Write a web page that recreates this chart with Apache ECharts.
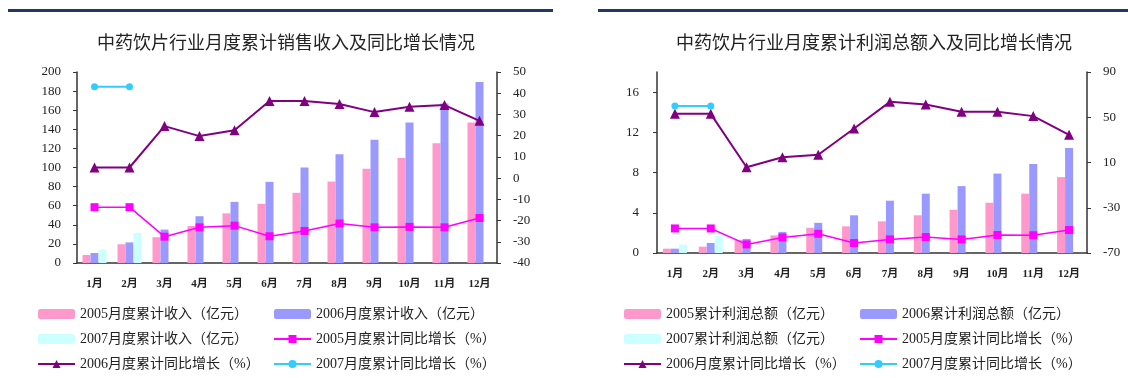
<!DOCTYPE html>
<html>
<head>
<meta charset="utf-8">
<script src="https://cdn.jsdelivr.net/npm/echarts@6/dist/echarts.min.js"></script>
<style>
  html, body { margin: 0; padding: 0; background: #fff; }
  #wrap { width: 1128px; height: 378px; position: relative; }
  .chart { position: absolute; top: 0; width: 564px; height: 378px; }
</style>
</head>
<body>
<div id="wrap">
  <div id="sales" class="chart" style="left:0"></div>
  <div id="profit" class="chart" style="left:564px"></div>
</div>
<script>
var months = ['1月', '2月', '3月', '4月', '5月', '6月', '7月', '8月', '9月', '10月', '11月', '12月'];

// 累计销售收入（亿元）
var sales2005 = [8.4, 19.6, 27, 38.8, 52, 62, 73.5, 85.3, 98.6, 110, 125.5, 147];
var sales2006 = [10.5, 21.6, 35, 49, 64, 85, 100, 114, 129, 147, 167, 189.5];
var sales2007 = [14, 31.5, null, null, null, null, null, null, null, null, null, null];
// 销售收入同比增长（%）
var salesGrowth2005 = [-13.7, -13.7, -27.6, -23.2, -22.4, -27.4, -24.9, -21.4, -23.2, -23, -23.2, -18.8];
var salesGrowth2006 = [5, 5, 24.5, 19.8, 22.6, 36.3, 36.3, 34.9, 31.1, 33.6, 34.4, 27];
var salesGrowth2007 = [43, 43, null, null, null, null, null, null, null, null, null, null];

// 累计利润总额（亿元）
var profit2005 = [0.43, 0.63, 1.3, 1.75, 2.5, 2.65, 3.15, 3.75, 4.3, 5.0, 5.9, 7.55];
var profit2006 = [0.43, 1.0, 1.4, 2.1, 3.0, 3.75, 5.2, 5.9, 6.65, 7.9, 8.85, 10.45];
var profit2007 = [0.83, 1.7, null, null, null, null, null, null, null, null, null, null];
// 利润同比增长（%）
var profitGrowth2005 = [-48.3, -48.3, -62.4, -56.3, -53, -61.2, -58, -55.9, -58, -54.1, -54.3, -49.7];
var profitGrowth2006 = [53, 53, 5.8, 14.6, 16.9, 40, 63.6, 61.3, 54.8, 54.8, 51, 34.5];
var profitGrowth2007 = [60, 60, null, null, null, null, null, null, null, null, null, null];

var FONT = "'Times New Roman', 'Liberation Serif', 'Noto Sans CJK SC', serif";
var TEXT = '#222';

function render(id, cfg) {
  var chart = echarts.init(document.getElementById(id));
  var axisLine = { show: true, lineStyle: { color: '#333', width: 1.5 } };
  var legendBase = {
    orient: 'vertical',
    padding: 0,
    itemWidth: 37,
    itemHeight: 10,
    itemGap: 11,
    textStyle: { color: TEXT, fontFamily: FONT, fontSize: 14, lineHeight: 14 }
  };
  chart.setOption({
    animation: false,
    title: {
      text: cfg.title,
      left: cfg.titleX,
      top: 30,
      textAlign: 'center',
      textStyle: { color: TEXT, fontFamily: FONT, fontSize: 18, fontWeight: 'normal' }
    },
    graphic: [{
      type: 'rect',
      shape: { x: cfg.ruleX, y: 9, width: cfg.ruleW, height: 3 },
      style: { fill: '#1F3864' }
    }],
    legend: [
      Object.assign({ left: cfg.legendX[0], top: 307, data: [cfg.names[0], cfg.names[2], cfg.names[4]] }, legendBase),
      Object.assign({ left: cfg.legendX[1], top: 307, data: [cfg.names[1], cfg.names[3], cfg.names[5]] }, legendBase)
    ],
    grid: cfg.grid,
    xAxis: {
      type: 'category',
      data: months,
      axisLine: axisLine,
      axisTick: { inside: true, length: 4, lineStyle: { color: '#333' } },
      axisLabel: { color: TEXT, fontFamily: FONT, fontSize: 11, fontWeight: 'bold', margin: 16 }
    },
    yAxis: [{
      type: 'value',
      min: cfg.left[0], max: cfg.left[1], interval: cfg.left[2],
      axisLine: axisLine,
      axisTick: { show: true, length: 4, lineStyle: { color: '#333' } },
      axisLabel: { showMaxLabel: cfg.left[3], color: TEXT, fontFamily: FONT, fontSize: 13, margin: cfg.leftMargin },
      splitLine: { show: false }
    }, {
      type: 'value',
      min: cfg.right[0], max: cfg.right[1], interval: cfg.right[2],
      axisLine: axisLine,
      axisTick: { show: true, length: 4, lineStyle: { color: '#333' } },
      axisLabel: { color: TEXT, fontFamily: FONT, fontSize: 13, margin: 16 },
      splitLine: { show: false }
    }],
    series: [
      { name: cfg.names[0], type: 'bar', data: cfg.bars[0], barWidth: 8, barGap: '0%', itemStyle: { color: '#FF99CC' } },
      { name: cfg.names[1], type: 'bar', data: cfg.bars[1], barWidth: 8, barGap: '0%', itemStyle: { color: '#9999FF' } },
      { name: cfg.names[2], type: 'bar', data: cfg.bars[2], barWidth: 8, barGap: '0%', itemStyle: { color: '#CCFFFF' } },
      {
        name: cfg.names[3], type: 'line', yAxisIndex: 1, data: cfg.lines[0],
        symbol: 'rect', symbolSize: 8, z: 5,
        lineStyle: { color: '#FF00FF', width: 1.5 }, itemStyle: { color: '#FF00FF' }
      },
      {
        name: cfg.names[4], type: 'line', yAxisIndex: 1, data: cfg.lines[1],
        symbol: 'triangle', symbolSize: 10, z: 5,
        lineStyle: { color: '#800080', width: 2 }, itemStyle: { color: '#800080' }
      },
      {
        name: cfg.names[5], type: 'line', yAxisIndex: 1, data: cfg.lines[2],
        symbol: 'circle', symbolSize: 7, z: 5,
        lineStyle: { color: '#33CCFF', width: 2 }, itemStyle: { color: '#33CCFF' }
      }
    ]
  });
}

render('sales', {
  title: '中药饮片行业月度累计销售收入及同比增长情况',
  titleX: 281,
  ruleX: 8, ruleW: 545,
  grid: { left: 77, right: 67, top: 72, bottom: 115 },
  left: [0, 200, 20, true],
  leftMargin: 16,
  right: [-40, 50, 10],
  legendX: [37, 273],
  names: ['2005月度累计收入（亿元）', '2006月度累计收入（亿元）', '2007月度累计收入（亿元）',
          '2005月度累计同比增长（%）', '2006月度累计同比增长（%）', '2007月度累计同比增长（%）'],
  bars: [sales2005, sales2006, sales2007],
  lines: [salesGrowth2005, salesGrowth2006, salesGrowth2007]
});

render('profit', {
  title: '中药饮片行业月度累计利润总额入及同比增长情况',
  titleX: 305,
  ruleX: 34, ruleW: 530,
  grid: { left: 93, right: 41, top: 72, bottom: 125 },
  left: [0, 18, 4, false],
  leftMargin: 18,
  right: [-70, 90, 40],
  legendX: [59, 295],
  names: ['2005累计利润总额（亿元）', '2006累计利润总额（亿元）', '2007累计利润总额（亿元）',
          '2005月度累计同比增长（%）', '2006月度累计同比增长（%）', '2007月度累计同比增长（%）'],
  bars: [profit2005, profit2006, profit2007],
  lines: [profitGrowth2005, profitGrowth2006, profitGrowth2007]
});
</script>
</body>
</html>
